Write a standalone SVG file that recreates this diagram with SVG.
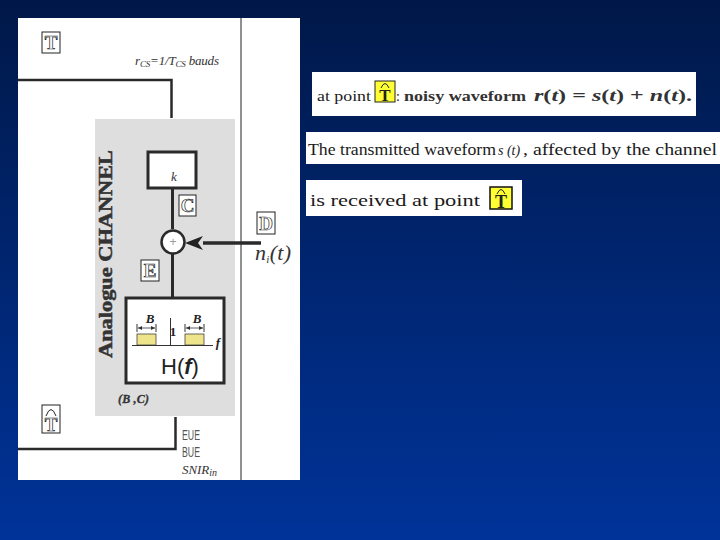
<svg xmlns="http://www.w3.org/2000/svg" width="720" height="540" viewBox="0 0 720 540">
<defs>
<linearGradient id="bg" x1="0" y1="0" x2="0" y2="1"><stop offset="0" stop-color="#001848"/><stop offset="1" stop-color="#003399"/></linearGradient>
<marker id="ah" markerUnits="userSpaceOnUse" markerWidth="18" markerHeight="16" refX="0" refY="8" orient="auto"><path d="M18 8L0 1L5 8L0 15Z" fill="#222"/></marker>
</defs>
<style>
.wire{fill:none;stroke:#2a2a2a;stroke-width:3}
.box{fill:#fff;stroke:#2a2a2a;stroke-width:3}
.tag{fill:#fff;stroke:#222;stroke-width:1}
.dbl{font-family:"Liberation Serif",serif;font-weight:700;fill:#fff;stroke:#222;stroke-width:0.700;text-anchor:middle}
.ser{font-family:"Liberation Serif",serif;fill:#333}
.it{font-style:italic}
.cap{font-family:"Liberation Serif",serif;fill:#1a1a1a}
.sn{font-family:"Liberation Sans",sans-serif;fill:#555}
</style>
<rect width="720" height="540" fill="url(#bg)"/>
<rect id="page" x="18" y="18" width="282" height="462" fill="#fff"/>
<rect id="channel-bg" x="95" y="119" width="140" height="297" fill="#dedede"/>
<g id="connectors">
<line x1="241" y1="18" x2="241" y2="480" stroke="#222" stroke-width="1"/>
<path d="M18 80H171.500V118" class="wire" style="stroke-width:2.500"/>
<path d="M175.500 417V449H18" class="wire" style="stroke-width:2.500"/>
<line x1="172.500" y1="189" x2="172.500" y2="229" class="wire"/>
<line x1="172.500" y1="254" x2="172.500" y2="298" class="wire"/>
<line x1="261" y1="243" x2="203" y2="243" class="wire" style="stroke-width:3.500" marker-end="url(#ah)"/>
</g>
<g id="node-t"><rect x="42" y="32" width="18" height="21" class="tag"/><text x="51" y="49" font-size="19" class="dbl">T</text></g>
<g id="node-rate"><text x="135" y="65" font-size="13" class="ser it" textLength="84" lengthAdjust="spacing">r<tspan font-size="9" dy="2">CS</tspan><tspan dy="-2">=1/T</tspan><tspan font-size="9" dy="2">CS</tspan><tspan dy="-2">  bauds</tspan></text></g>
<g id="node-title"><text transform="translate(112 358) rotate(-90)" font-size="19" font-weight="700" textLength="208" lengthAdjust="spacingAndGlyphs" font-family="Liberation Serif, serif" fill="#333" stroke="#333" stroke-width="0.500">Analogue  CHANNEL</text></g>
<g id="node-k"><rect x="148" y="152" width="48" height="36" class="box"/><text x="171" y="181" font-size="13" class="ser it">k</text></g>
<g id="node-c"><rect x="179" y="195" width="17" height="21" class="tag"/><text x="187.500" y="212" font-size="19" class="dbl">C</text></g>
<g id="node-d"><rect x="257" y="212" width="18" height="22" class="tag"/><text x="266" y="230" font-size="19" class="dbl">D</text></g>
<g id="node-sum"><circle cx="173" cy="242" r="11.500" fill="#fff" stroke="#2a2a2a" stroke-width="2.500"/><text x="173" y="246" font-size="12" text-anchor="middle" font-family="Liberation Sans, sans-serif" fill="#999">+</text></g>
<g id="node-ni"><text x="255" y="260" font-size="22" class="ser it" textLength="36" lengthAdjust="spacing">n<tspan font-size="11" dy="3">i</tspan><tspan dy="-3">(t)</tspan></text></g>
<g id="node-e"><rect x="141" y="260" width="18" height="21" class="tag"/><text x="150" y="277" font-size="19" class="dbl">E</text></g>
<g id="node-h">
<rect x="126" y="298" width="98" height="85" class="box"/>
<rect x="137" y="334" width="19" height="11" fill="#eee48a" stroke="#444" stroke-width="0.800"/>
<rect x="185" y="334" width="19" height="11" fill="#eee48a" stroke="#444" stroke-width="0.800"/>
<line x1="132" y1="345.500" x2="213" y2="345.500" stroke="#333" stroke-width="1"/>
<line x1="170.500" y1="318" x2="170.500" y2="345" stroke="#333" stroke-width="1"/>
<path d="M137 324V332M156 324V332M185 324V332M204 324V332" stroke="#333" stroke-width="1" fill="none"/>
<path d="M138 328H155M186 328H203" stroke="#333" stroke-width="0.800" fill="none"/>
<path d="M138 328l4-2v4zM155 328l-4-2v4zM186 328l4-2v4zM203 328l-4-2v4z" fill="#333"/>
<text x="150" y="323" font-size="13" font-weight="700" text-anchor="middle" class="ser it" style="fill:#222">B</text>
<text x="197" y="323" font-size="13" font-weight="700" text-anchor="middle" class="ser it" style="fill:#222">B</text>
<text x="173" y="336" font-size="13" font-weight="700" text-anchor="middle" class="ser" style="fill:#222">1</text>
<text x="218" y="347" font-size="13" font-weight="700" text-anchor="middle" class="ser it" style="fill:#222">f</text>
<text x="161" y="374" font-size="22" font-family="Liberation Sans, sans-serif" fill="#222">H(<tspan font-style="italic" font-weight="700">f</tspan>)</text>
</g>
<g id="node-bc"><text x="118" y="403" font-size="12" font-weight="700" class="ser it" style="fill:#333" stroke="#333" stroke-width="0.300" textLength="31">(B ,C)</text></g>
<g id="node-that"><rect x="42" y="405" width="18" height="28" class="tag"/><text x="51" y="431" font-size="19" class="dbl">T</text><path d="M46 416Q51 403 56 416" fill="none" stroke="#222" stroke-width="1"/></g>
<g id="node-labels">
<text x="182" y="440" font-size="14" class="sn" textLength="18" lengthAdjust="spacingAndGlyphs">EUE</text>
<text x="182" y="457" font-size="14" class="sn" textLength="18" lengthAdjust="spacingAndGlyphs">BUE</text>
<text x="182" y="474" font-size="13" class="ser it" textLength="35" lengthAdjust="spacing">SNIR<tspan font-size="10" dy="2">in</tspan></text>
</g>
<g id="note1"><rect x="312" y="72" width="384" height="44" fill="#fff"/>
<text x="317" y="101" font-size="14" class="cap" textLength="54" lengthAdjust="spacingAndGlyphs">at point</text>
<rect x="375" y="81" width="20" height="21" fill="#ffff33" stroke="#222" stroke-width="1"/><text x="385" y="101" font-size="17" font-weight="700" font-family="Liberation Serif, serif" text-anchor="middle" fill="#222">T</text><path d="M381 88Q385 79 389 88" fill="none" stroke="#222" stroke-width="1"/>
<text x="396" y="101" font-size="14" class="cap">:</text>
<text x="404" y="101" font-size="14" font-weight="700" class="cap" textLength="122" lengthAdjust="spacingAndGlyphs" style="fill:#333">noisy waveform</text>
<text x="534" y="101" font-size="17" font-weight="700" class="cap" textLength="158" lengthAdjust="spacingAndGlyphs" style="fill:#333"><tspan font-style="italic">r</tspan>(<tspan font-style="italic">t</tspan>) = <tspan font-style="italic">s</tspan>(<tspan font-style="italic">t</tspan>) + <tspan font-style="italic">n</tspan>(<tspan font-style="italic">t</tspan>).</text>
</g>
<g id="note2"><rect x="306" y="132" width="414" height="32" fill="#fff"/>
<text x="308" y="155" font-size="16" class="cap" textLength="188" lengthAdjust="spacingAndGlyphs">The transmitted waveform</text>
<text x="498" y="155" font-size="14" class="cap it">s (t)</text>
<text x="523" y="155" font-size="16" class="cap" textLength="194" lengthAdjust="spacingAndGlyphs">, affected by the channel</text>
</g>
<g id="note3"><rect x="306" y="180" width="216" height="36" fill="#fff"/>
<text x="310" y="206" font-size="16" class="cap" textLength="170" lengthAdjust="spacingAndGlyphs">is received at point</text>
<rect x="490" y="187" width="22" height="22" fill="#ffff33" stroke="#111" stroke-width="1.500"/><text x="501" y="208" font-size="18" font-weight="700" font-family="Liberation Serif, serif" text-anchor="middle" fill="#222">T</text><path d="M497 194Q501 185 505 194" fill="none" stroke="#222" stroke-width="1"/>
</g>
</svg>
